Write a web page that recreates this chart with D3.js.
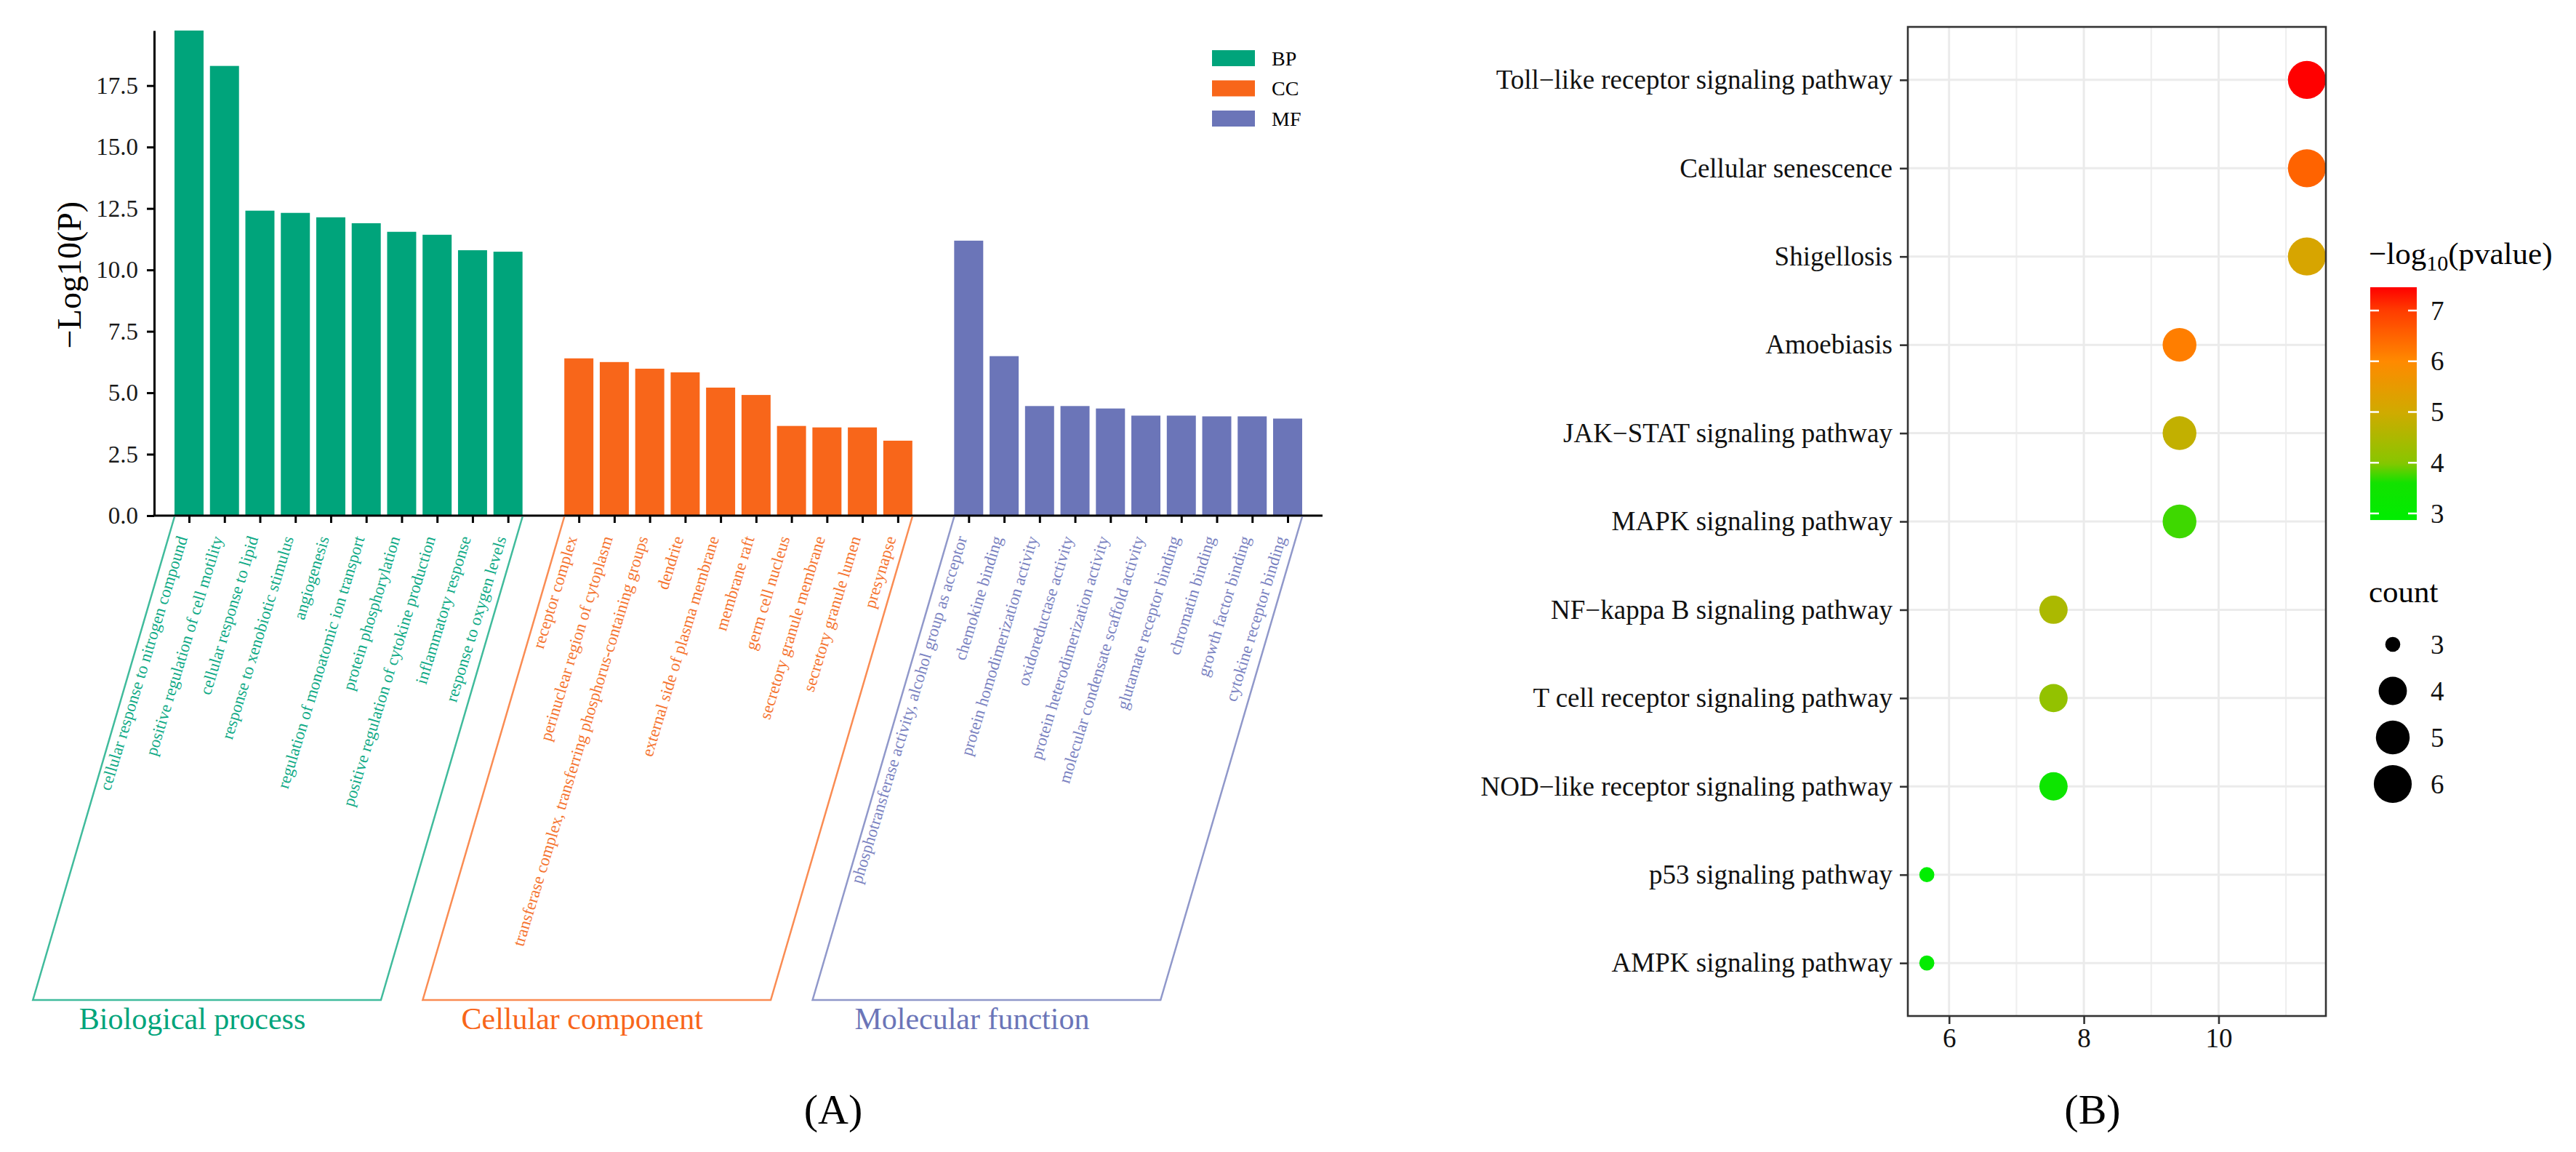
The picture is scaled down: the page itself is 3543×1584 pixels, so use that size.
<!DOCTYPE html>
<html><head><meta charset="utf-8">
<script src="https://cdn.jsdelivr.net/npm/d3@7"></script>
<style>html,body{margin:0;padding:0;background:#fff;} svg{display:block;font-family:"Liberation Serif","Times New Roman",serif;}</style>
</head><body><svg id="c" width="3543" height="1584"></svg>
<script>
// ---------- Panel A data ----------
const bpTerms = ["cellular response to nitrogen compound","positive regulation of cell motility","cellular response to lipid","response to xenobiotic stimulus","angiogenesis","regulation of monoatomic ion transport","protein phosphorylation","positive regulation of cytokine production","inflammatory response","response to oxygen levels"];
const bpValues = [19.74, 18.30, 12.41, 12.32, 12.14, 11.90, 11.55, 11.43, 10.80, 10.74];
const ccTerms = ["receptor complex","perinuclear region of cytoplasm","transferase complex, transferring phosphorus-containing groups","dendrite","external side of plasma membrane","membrane raft","germ cell nucleus","secretory granule membrane","secretory granule lumen","presynapse"];
const ccValues = [6.40, 6.25, 5.98, 5.83, 5.21, 4.91, 3.65, 3.59, 3.59, 3.05];
const mfTerms = ["phosphotransferase activity, alcohol group as acceptor","chemokine binding","protein homodimerization activity","oxidoreductase activity","protein heterodimerization activity","molecular condensate scaffold activity","glutamate receptor binding","chromatin binding","growth factor binding","cytokine receptor binding"];
const mfValues = [11.19, 6.49, 4.46, 4.46, 4.36, 4.07, 4.07, 4.04, 4.04, 3.95];
const groupKeys = ["BP","CC","MF"];
const groupNames = ["Biological process","Cellular component","Molecular function"];
const yTicksA = [0, 2.5, 5, 7.5, 10, 12.5, 15, 17.5];

// ---------- Panel B data ----------
const pathways = ["Toll\u2212like receptor signaling pathway","Cellular senescence","Shigellosis","Amoebiasis","JAK\u2212STAT signaling pathway","MAPK signaling pathway","NF\u2212kappa B signaling pathway","T cell receptor signaling pathway","NOD\u2212like receptor signaling pathway","p53 signaling pathway","AMPK signaling pathway"];
const enrichX = [11.31, 11.31, 11.31, 9.42, 9.42, 9.42, 7.55, 7.55, 7.55, 5.67, 5.67];
const counts = [6, 6, 6, 5, 5, 5, 4, 4, 4, 3, 3];
const logP = [7.46, 6.50, 5.15, 6.15, 4.80, 3.75, 4.48, 4.15, 3.40, 2.87, 3.05];
const xTicksB = [6, 8, 10];
const xMinorB = [7, 9, 11];
const colorTicks = [3, 4, 5, 6, 7];
const sizeKeys = [3, 4, 5, 6];

// ---------- styles ----------
const FONT = '"Liberation Serif","Times New Roman",serif';
const barColors = {BP:"#00A47B", CC:"#F8661A", MF:"#6B75B8"};
const textColors = {BP:"#0FAA86", CC:"#F57430", MF:"#7A82C1"};
const gradStops = [3.6, 4, 5, 6, 7];
const gradColors = ["#00EE00","#12E200","#88C600","#D0AA00","#FF8A00","#FF3C00","#FF0000"];

const svg = d3.select("#c");
svg.append("rect").attr("width",3543).attr("height",1584).attr("fill","#fff");

// ================= Panel A =================
const groups = [
  {key:groupKeys[0], name:groupNames[0], terms:bpTerms, values:bpValues},
  {key:groupKeys[1], name:groupNames[1], terms:ccTerms, values:ccValues},
  {key:groupKeys[2], name:groupNames[2], terms:mfTerms, values:mfValues}
];
const slots = [];
groups.forEach((g,gi)=>{ if(gi>0) slots.push("__gap"+gi); g.terms.forEach(t=>slots.push(t)); });

const A = {left:212, right:1819, top:42, base:709};
const xA = d3.scalePoint().domain(slots).range([260, 1771]);
const bw = xA.step()*0.82;
const allVals = bpValues.concat(ccValues, mfValues);
const yA = d3.scaleLinear().domain([0, d3.max(allVals)]).range([A.base, A.top]);

const gA = svg.append("g");
groups.forEach(g=>{
  gA.selectAll(null).data(g.terms.map((t,i)=>({t, v:g.values[i]}))).enter().append("rect")
    .attr("x", d=>xA(d.t)-bw/2).attr("width", bw)
    .attr("y", d=>yA(d.v)).attr("height", d=>yA(0)-yA(d.v))
    .attr("fill", barColors[g.key]);
});

// y axis
const gy = gA.append("g").attr("transform",`translate(${A.left},0)`)
  .call(d3.axisLeft(yA).tickValues(yTicksA).tickFormat(d3.format(".1f")).tickSize(10).tickSizeOuter(0).tickPadding(12));
gy.select(".domain").attr("stroke","#000").attr("stroke-width",3);
gy.selectAll(".tick line").attr("stroke","#000").attr("stroke-width",3);
gy.selectAll(".tick text").attr("font-size",33).attr("font-family",FONT).attr("fill","#1a1a1a");

// x axis
const termSlots = slots.filter(s=>!s.startsWith("__gap"));
const gx = gA.append("g").attr("transform",`translate(0,${A.base})`)
  .call(d3.axisBottom(xA).tickValues(termSlots).tickFormat("").tickSize(10).tickSizeOuter(0));
gx.select(".domain").remove();
gx.selectAll(".tick line").attr("stroke","#000").attr("stroke-width",3);
gA.append("line").attr("x1",A.left-1.5).attr("x2",A.right).attr("y1",A.base).attr("y2",A.base)
  .attr("stroke","#000").attr("stroke-width",3);

// rotated labels
const ANG = 73;
groups.forEach(g=>{
  gA.selectAll(null).data(g.terms).enter().append("text")
    .attr("transform", t=>`translate(${xA(t)-2},${A.base+31}) rotate(${-ANG})`)
    .attr("text-anchor","end").attr("font-size",23).attr("font-family",FONT)
    .attr("fill", textColors[g.key]).text(t=>t);
});

// brackets
const brBottom = 1375;
const brOff = (brBottom - A.base)/Math.tan(73.7*Math.PI/180);
groups.forEach(g=>{
  const x0 = xA(g.terms[0]) - bw/2, x1 = xA(g.terms[g.terms.length-1]) + bw/2;
  const p = d3.path();
  p.moveTo(x0, A.base+1.5); p.lineTo(x0-brOff, brBottom); p.lineTo(x1-brOff, brBottom); p.lineTo(x1, A.base+1.5);
  gA.append("path").attr("d", p.toString()).attr("fill","none")
    .attr("stroke", barColors[g.key]).attr("stroke-opacity",0.75).attr("stroke-width",2.5);
  gA.append("text").attr("x", (x0+x1)/2 - brOff - 20).attr("y", 1415)
    .attr("text-anchor","middle").attr("font-size",42).attr("font-family",FONT)
    .attr("fill", barColors[g.key]).text(g.name);
});

// y title
gA.append("text").attr("transform","translate(95,378) rotate(-90)")
  .attr("text-anchor","middle").attr("dominant-baseline","central")
  .attr("font-size",46).attr("font-family",FONT).attr("fill","#000").text("\u2212Log10(P)");

// legend A
const legA = gA.append("g");
groupKeys.forEach((k,i)=>{
  legA.append("rect").attr("x",1667).attr("y",69+i*41.5).attr("width",59).attr("height",22).attr("fill",barColors[k]);
  legA.append("text").attr("x",1749).attr("y",80+i*41.5).attr("dominant-baseline","central")
    .attr("font-size",28).attr("font-family",FONT).attr("fill","#000").text(k);
});

svg.append("text").attr("x",1146).attr("y",1545).attr("text-anchor","middle")
  .attr("font-size",58).attr("font-family",FONT).attr("fill","#000").text("(A)");

// ================= Panel B =================
const B = {left:2624, right:3199, top:37, bottom:1397};
const xr = d3.extent(enrichX), pad = (xr[1]-xr[0])*0.05;
const xB = d3.scaleLinear().domain([xr[0]-pad, xr[1]+pad]).range([B.left, B.right]);
const yB = d3.scalePoint().domain(pathways).range([B.top, B.bottom]).padding(0.6);
const rB = d3.scaleSqrt().domain([0, 3]).range([10.35, 26.1]);
const cExt = d3.extent(logP);
const cB = d3.scaleLinear().domain([cExt[0]].concat(gradStops, [cExt[1]])).range(gradColors).clamp(true);

const gB = svg.append("g");
gB.append("rect").attr("x",B.left).attr("y",B.top).attr("width",B.right-B.left).attr("height",B.bottom-B.top).attr("fill","#fff");
// grid
gB.selectAll(null).data(xMinorB).enter().append("line")
  .attr("x1",d=>xB(d)).attr("x2",d=>xB(d)).attr("y1",B.top).attr("y2",B.bottom)
  .attr("stroke","#EFEFEF").attr("stroke-width",2.2);
gB.selectAll(null).data(xTicksB).enter().append("line")
  .attr("x1",d=>xB(d)).attr("x2",d=>xB(d)).attr("y1",B.top).attr("y2",B.bottom)
  .attr("stroke","#EBEBEB").attr("stroke-width",3);
gB.selectAll(null).data(pathways).enter().append("line")
  .attr("x1",B.left).attr("x2",B.right).attr("y1",d=>yB(d)).attr("y2",d=>yB(d))
  .attr("stroke","#EBEBEB").attr("stroke-width",3);
// points
gB.selectAll(null).data(pathways.map((p,i)=>({p, x:enrichX[i], c:counts[i], v:logP[i]}))).enter().append("circle")
  .attr("cx",d=>xB(d.x)).attr("cy",d=>yB(d.p)).attr("r",d=>rB(d.c-3)).attr("fill",d=>cB(d.v));
// border
gB.append("rect").attr("x",B.left).attr("y",B.top).attr("width",B.right-B.left).attr("height",B.bottom-B.top)
  .attr("fill","none").attr("stroke","#333").attr("stroke-width",2.6);
// axes
const gyB = gB.append("g").attr("transform",`translate(${B.left},0)`)
  .call(d3.axisLeft(yB).tickSize(11).tickSizeOuter(0).tickPadding(10));
gyB.select(".domain").remove();
gyB.selectAll(".tick line").attr("stroke","#333").attr("stroke-width",2.6);
gyB.selectAll(".tick text").attr("font-size",37).attr("font-family",FONT).attr("fill","#111");
const gxB = gB.append("g").attr("transform",`translate(0,${B.bottom})`)
  .call(d3.axisBottom(xB).tickValues(xTicksB).tickFormat(d3.format("d")).tickSize(11).tickSizeOuter(0).tickPadding(6));
gxB.select(".domain").remove();
gxB.selectAll(".tick line").attr("stroke","#333").attr("stroke-width",2.6);
gxB.selectAll(".tick text").attr("font-size",37).attr("font-family",FONT).attr("fill","#111");

// colour legend
const cy = d3.scaleLinear().domain([3,7]).range([706,427]);
const defs = svg.append("defs");
const grad = defs.append("linearGradient").attr("id","cg").attr("x1",0).attr("y1",1).attr("x2",0).attr("y2",0);
d3.range(0,1.0001,0.02).forEach(t=>{
  grad.append("stop").attr("offset",t).attr("stop-color", cB(cExt[0]+t*(cExt[1]-cExt[0])));
});
const CB = {x:3260, w:64};
gB.append("rect").attr("x",CB.x).attr("y",cy(cExt[1])).attr("width",CB.w).attr("height",cy(cExt[0])-cy(cExt[1])).attr("fill","url(#cg)");
colorTicks.forEach(v=>{
  gB.append("line").attr("x1",CB.x).attr("x2",CB.x+12).attr("y1",cy(v)).attr("y2",cy(v)).attr("stroke","#fff").attr("stroke-width",2.5);
  gB.append("line").attr("x1",CB.x+CB.w-12).attr("x2",CB.x+CB.w).attr("y1",cy(v)).attr("y2",cy(v)).attr("stroke","#fff").attr("stroke-width",2.5);
  gB.append("text").attr("x",3343).attr("y",cy(v)).attr("dominant-baseline","central")
    .attr("font-size",37).attr("font-family",FONT).attr("fill","#111").text(v);
});
const lt = gB.append("text").attr("x",3258).attr("y",363).attr("font-size",43).attr("font-family",FONT).attr("fill","#000");
lt.append("tspan").text("\u2212log");
lt.append("tspan").attr("font-size",30).attr("dy",9).text("10");
lt.append("tspan").attr("dy",-9).text("(pvalue)");

// size legend
gB.append("text").attr("x",3258).attr("y",828).attr("font-size",43).attr("font-family",FONT).attr("fill","#000").text("count");
const sy = d3.scalePoint().domain(sizeKeys).range([886, 1078]);
sizeKeys.forEach(k=>{
  gB.append("circle").attr("cx",3291).attr("cy",sy(k)).attr("r",rB(k-3)).attr("fill","#000");
  gB.append("text").attr("x",3343).attr("y",sy(k)).attr("dominant-baseline","central")
    .attr("font-size",37).attr("font-family",FONT).attr("fill","#111").text(k);
});

svg.append("text").attr("x",2878).attr("y",1545).attr("text-anchor","middle")
  .attr("font-size",58).attr("font-family",FONT).attr("fill","#000").text("(B)");
</script></body></html>
